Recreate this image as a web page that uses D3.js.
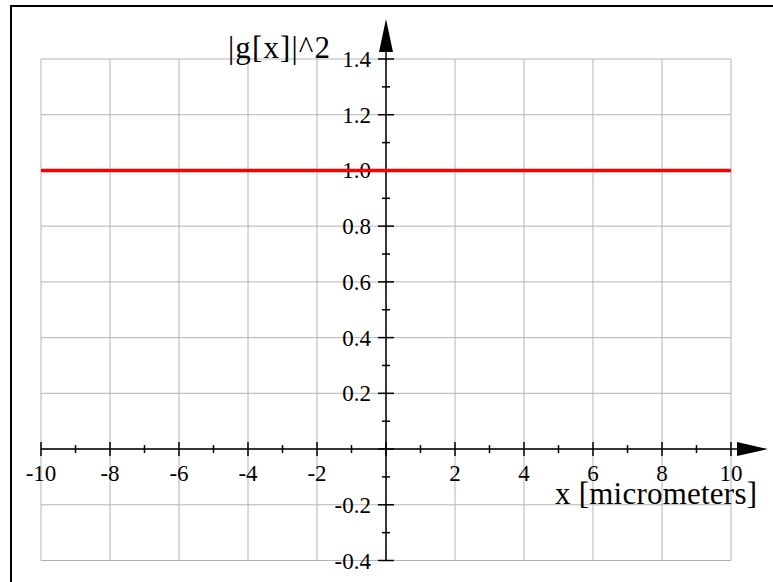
<!DOCTYPE html>
<html lang="en">
<head>
  <meta charset="UTF-8"/>
  <title>|g[x]|^2</title>
  <script src="https://d3js.org/d3.v7.min.js"></script>
  <style>
    body { margin: 0; background: #fff; }
    svg { display: block; }
    text { font-family: 'Liberation Serif', 'Times New Roman', serif; fill: #000; }
    .grid line { stroke: #b4b4b4; stroke-width: 1; }
    .tick-label { font-size: 23px; }
    .axis-title { font-size: 31px; }
  </style>
</head>
<body>
  <svg width="773" height="582"></svg>

<script>
  // data
  const xValues = [-10, 10];
  const yValues = [1, 1];
  const xTicks = [-10, -8, -6, -4, -2, 2, 4, 6, 8, 10];
  const yTicks = [-0.4, -0.2, 0.2, 0.4, 0.6, 0.8, 1.0, 1.2, 1.4];
  const xGrid = [-10, -8, -6, -4, -2, 0, 2, 4, 6, 8, 10];
  const yGrid = [-0.4, -0.2, 0, 0.2, 0.4, 0.6, 0.8, 1.0, 1.2, 1.4];
  const xMinor = [-9, -7, -5, -3, -1, 1, 3, 5, 7, 9];
  const yMinor = [-0.3, -0.1, 0.1, 0.3, 0.5, 0.7, 0.9, 1.1, 1.3];

  const svg = d3.select('svg');

  const x = d3.scaleLinear().domain([-10, 10]).range([41, 731]);
  const y = d3.scaleLinear().domain([-0.4, 1.4]).range([560.5, 59]);

  // frame (left and top only)
  svg.append('path')
    .attr('d', 'M11,582 L11,6 L773,6')
    .attr('fill', 'none')
    .attr('stroke', '#000')
    .attr('stroke-width', 2);

  // grid
  const grid = svg.append('g').attr('class', 'grid');
  grid.selectAll('.vx').data(xGrid).enter().append('line')
    .attr('x1', d => x(d)).attr('x2', d => x(d))
    .attr('y1', y(-0.4)).attr('y2', y(1.4));
  grid.selectAll('.hy').data(yGrid).enter().append('line')
    .attr('x1', x(-10)).attr('x2', x(10))
    .attr('y1', d => y(d)).attr('y2', d => y(d));

  // tick labels (plain hyphen minus, as in the original)
  svg.selectAll('.xl').data(xTicks).enter().append('text')
    .attr('class', 'tick-label')
    .attr('x', d => x(d))
    .attr('y', y(0) + 32)
    .attr('text-anchor', 'middle')
    .text(d => String(d));

  svg.selectAll('.yl').data(yTicks).enter().append('text')
    .attr('class', 'tick-label')
    .attr('x', x(0) - 15)
    .attr('y', d => y(d) + 8)
    .attr('text-anchor', 'end')
    .text(d => d.toFixed(1));

  // axes
  const ax = svg.append('g').attr('stroke', '#000').attr('stroke-width', 1.5);
  ax.append('line')
    .attr('x1', x(-10)).attr('x2', 740)
    .attr('y1', y(0)).attr('y2', y(0));
  ax.append('line')
    .attr('x1', x(0)).attr('x2', x(0))
    .attr('y1', y(-0.4)).attr('y2', 50);

  ax.selectAll('.xt').data(xGrid).enter().append('line')
    .attr('x1', d => x(d)).attr('x2', d => x(d))
    .attr('y1', y(0) - 7).attr('y2', y(0) + 7);
  ax.selectAll('.xm').data(xMinor).enter().append('line')
    .attr('x1', d => x(d)).attr('x2', d => x(d))
    .attr('y1', y(0) - 4).attr('y2', y(0) + 4);
  ax.selectAll('.yt').data(yGrid).enter().append('line')
    .attr('x1', x(0) - 8).attr('x2', x(0) + 8)
    .attr('y1', d => y(d)).attr('y2', d => y(d));
  ax.selectAll('.ym').data(yMinor).enter().append('line')
    .attr('x1', x(0) - 4).attr('x2', x(0) + 4)
    .attr('y1', d => y(d)).attr('y2', d => y(d));

  // arrow heads
  svg.append('path')
    .attr('d', `M768,${y(0)} L737,${y(0) - 7} L737,${y(0) + 7} Z`)
    .attr('fill', '#000');
  svg.append('path')
    .attr('d', `M${x(0)},19 L${x(0) - 7},52 L${x(0) + 7},52 Z`)
    .attr('fill', '#000');

  // data line
  const line = d3.line()
    .x((d, i) => x(xValues[i]))
    .y(d => y(d));
  svg.append('path')
    .datum(yValues)
    .attr('d', line)
    .attr('fill', 'none')
    .attr('stroke', '#ff0000')
    .attr('stroke-width', 3.5);

  // axis titles
  svg.append('text')
    .attr('class', 'axis-title')
    .attr('x', 228)
    .attr('y', 58)
    .attr('textLength', 102)
    .text('|g[x]|^2');

  svg.append('text')
    .attr('class', 'axis-title')
    .attr('x', 555)
    .attr('y', 504)
    .attr('textLength', 202)
    .text('x [micrometers]');
</script>
</body>
</html>
